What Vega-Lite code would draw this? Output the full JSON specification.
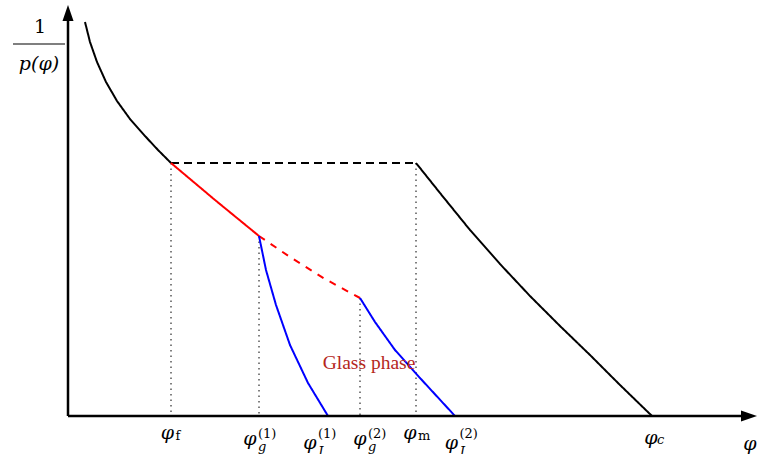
{
  "$schema": "https://vega.github.io/schema/vega-lite/v6.json",
  "width": 757,
  "height": 454,
  "autosize": "none",
  "padding": 0,
  "background": "white",
  "config": {"view": {"stroke": null}},
  "datasets": {
    "curves": [
      {"s": "A", "i": 0, "x": 17, "y": 394},
      {"s": "A", "i": 1, "x": 22, "y": 374},
      {"s": "A", "i": 2, "x": 29, "y": 354},
      {"s": "A", "i": 3, "x": 38, "y": 334},
      {"s": "A", "i": 4, "x": 49, "y": 315},
      {"s": "A", "i": 5, "x": 62, "y": 297},
      {"s": "A", "i": 6, "x": 77, "y": 280},
      {"s": "A", "i": 7, "x": 90, "y": 266},
      {"s": "A", "i": 8, "x": 103, "y": 253},
      {"s": "B", "i": 0, "x": 103, "y": 253},
      {"s": "B", "i": 1, "x": 348, "y": 253},
      {"s": "C", "i": 0, "x": 348, "y": 253},
      {"s": "C", "i": 1, "x": 372, "y": 223},
      {"s": "C", "i": 2, "x": 402, "y": 186},
      {"s": "C", "i": 3, "x": 432, "y": 152},
      {"s": "C", "i": 4, "x": 462, "y": 120},
      {"s": "C", "i": 5, "x": 492, "y": 90},
      {"s": "C", "i": 6, "x": 522, "y": 61},
      {"s": "C", "i": 7, "x": 552, "y": 31},
      {"s": "C", "i": 8, "x": 584, "y": 0},
      {"s": "D", "i": 0, "x": 103, "y": 253},
      {"s": "D", "i": 1, "x": 147, "y": 216},
      {"s": "D", "i": 2, "x": 191, "y": 180},
      {"s": "E", "i": 0, "x": 191, "y": 180},
      {"s": "E", "i": 1, "x": 222, "y": 159},
      {"s": "E", "i": 2, "x": 257, "y": 137},
      {"s": "E", "i": 3, "x": 292, "y": 118},
      {"s": "F", "i": 0, "x": 191, "y": 180},
      {"s": "F", "i": 1, "x": 198, "y": 146},
      {"s": "F", "i": 2, "x": 208, "y": 111},
      {"s": "F", "i": 3, "x": 222, "y": 71},
      {"s": "F", "i": 4, "x": 240, "y": 33},
      {"s": "F", "i": 5, "x": 260, "y": 0},
      {"s": "G", "i": 0, "x": 292, "y": 118},
      {"s": "G", "i": 1, "x": 307, "y": 94},
      {"s": "G", "i": 2, "x": 327, "y": 66},
      {"s": "G", "i": 3, "x": 352, "y": 38},
      {"s": "G", "i": 4, "x": 387, "y": 0}
    ],
    "guides": [
      {"x": 103, "y": 253},
      {"x": 191, "y": 180},
      {"x": 292, "y": 118},
      {"x": 348, "y": 253}
    ],
    "labels": [
      {"name": "f", "x": 99.5, "sub": "f", "sup": ""},
      {"name": "g1", "x": 182, "sub": "g", "sup": "(1)"},
      {"name": "J1", "x": 242, "sub": "J", "sup": "(1)"},
      {"name": "g2", "x": 292, "sub": "g", "sup": "(2)"},
      {"name": "m", "x": 342, "sub": "m", "sup": ""},
      {"name": "J2", "x": 383.5, "sub": "J", "sup": "(2)"},
      {"name": "c", "x": 583, "sub": "c", "sup": ""}
    ]
  },
  "layer": [
    {
      "data": {"name": "guides"},
      "mark": {"type": "rule", "stroke": "black", "strokeWidth": 1, "strokeDash": [1.5, 4]},
      "encoding": {
        "x": {"field": "x", "type": "quantitative", "scale": {"domain": [-68, 689], "zero": false, "nice": false}, "axis": null},
        "y": {"field": "y", "type": "quantitative", "scale": {"domain": [-38, 416], "zero": false, "nice": false}, "axis": null},
        "y2": {"datum": 0}
      }
    },
    {
      "data": {"name": "curves"},
      "mark": {"type": "line", "strokeWidth": 2},
      "encoding": {
        "x": {"field": "x", "type": "quantitative", "scale": {"domain": [-68, 689], "zero": false, "nice": false}, "axis": null},
        "y": {"field": "y", "type": "quantitative", "scale": {"domain": [-38, 416], "zero": false, "nice": false}, "axis": null},
        "order": {"field": "i", "type": "quantitative"},
        "color": {"field": "s", "type": "nominal", "legend": null,
          "scale": {"domain": ["A", "B", "C", "D", "E", "F", "G"], "range": ["#000000", "#000000", "#000000", "#ff0000", "#ff0000", "#0000ff", "#0000ff"]}},
        "strokeDash": {"field": "s", "type": "nominal", "legend": null,
          "scale": {"domain": ["A", "B", "C", "D", "E", "F", "G"], "range": [[1, 0], [8, 5], [1, 0], [1, 0], [7, 7], [1, 0], [1, 0]]}}
      }
    },
    {
      "data": {"values": [{}]},
      "mark": {"type": "rule", "stroke": "black", "strokeWidth": 2.5},
      "encoding": {
        "x": {"datum": 0, "type": "quantitative", "scale": {"domain": [-68, 689], "zero": false, "nice": false}, "axis": null},
        "x2": {"datum": 676},
        "y": {"datum": 0, "type": "quantitative", "scale": {"domain": [-38, 416], "zero": false, "nice": false}, "axis": null}
      }
    },
    {
      "data": {"values": [{}]},
      "mark": {"type": "rule", "stroke": "black", "strokeWidth": 2.5},
      "encoding": {
        "x": {"datum": 0, "type": "quantitative", "scale": {"domain": [-68, 689], "zero": false, "nice": false}, "axis": null},
        "y": {"datum": 0, "type": "quantitative", "scale": {"domain": [-38, 416], "zero": false, "nice": false}, "axis": null},
        "y2": {"datum": 400}
      }
    },
    {
      "data": {"values": [{}]},
      "mark": {"type": "point", "shape": "M0,-1L0.69,1L-0.69,1Z", "filled": true, "fill": "black", "stroke": null, "size": 256, "opacity": 1},
      "encoding": {
        "x": {"datum": 0, "type": "quantitative", "scale": {"domain": [-68, 689], "zero": false, "nice": false}, "axis": null},
        "y": {"datum": 403, "type": "quantitative", "scale": {"domain": [-38, 416], "zero": false, "nice": false}, "axis": null}
      }
    },
    {
      "data": {"values": [{}]},
      "mark": {"type": "point", "shape": "M1,0L-1,0.69L-1,-0.69Z", "filled": true, "fill": "black", "stroke": null, "size": 256, "opacity": 1},
      "encoding": {
        "x": {"datum": 681, "type": "quantitative", "scale": {"domain": [-68, 689], "zero": false, "nice": false}, "axis": null},
        "y": {"datum": 0, "type": "quantitative", "scale": {"domain": [-38, 416], "zero": false, "nice": false}, "axis": null}
      }
    },
    {
      "data": {"values": [{}]},
      "mark": {"type": "rule", "stroke": "#555555", "strokeWidth": 1.5},
      "encoding": {
        "x": {"datum": -55, "type": "quantitative", "scale": {"domain": [-68, 689], "zero": false, "nice": false}, "axis": null},
        "x2": {"datum": -3},
        "y": {"datum": 372, "type": "quantitative", "scale": {"domain": [-38, 416], "zero": false, "nice": false}, "axis": null}
      }
    },
    {
      "data": {"values": [{"t": "1", "x": -28, "y": 383}]},
      "mark": {"type": "text", "font": "DejaVu Serif", "fontSize": 19, "align": "center", "baseline": "alphabetic", "color": "black"},
      "encoding": {
        "x": {"field": "x", "type": "quantitative", "scale": {"domain": [-68, 689], "zero": false, "nice": false}, "axis": null},
        "y": {"field": "y", "type": "quantitative", "scale": {"domain": [-38, 416], "zero": false, "nice": false}, "axis": null},
        "text": {"field": "t"}
      }
    },
    {
      "data": {"values": [{"t": "p(φ)", "x": -29, "y": 346}]},
      "mark": {"type": "text", "font": "DejaVu Serif", "fontSize": 19, "fontStyle": "italic", "align": "center", "baseline": "alphabetic", "color": "black"},
      "encoding": {
        "x": {"field": "x", "type": "quantitative", "scale": {"domain": [-68, 689], "zero": false, "nice": false}, "axis": null},
        "y": {"field": "y", "type": "quantitative", "scale": {"domain": [-38, 416], "zero": false, "nice": false}, "axis": null},
        "text": {"field": "t"}
      }
    },
    {
      "data": {"values": [{"t": "Glass phase", "x": 301, "y": 47}]},
      "mark": {"type": "text", "font": "Liberation Serif", "fontSize": 19.5, "align": "center", "baseline": "alphabetic", "color": "#b5261c"},
      "encoding": {
        "x": {"field": "x", "type": "quantitative", "scale": {"domain": [-68, 689], "zero": false, "nice": false}, "axis": null},
        "y": {"field": "y", "type": "quantitative", "scale": {"domain": [-38, 416], "zero": false, "nice": false}, "axis": null},
        "text": {"field": "t"}
      }
    },
    {
      "data": {"values": [{"t": "φ", "x": 682, "y": -34}]},
      "mark": {"type": "text", "font": "DejaVu Serif", "fontSize": 19, "fontStyle": "italic", "align": "center", "baseline": "alphabetic", "color": "black"},
      "encoding": {
        "x": {"field": "x", "type": "quantitative", "scale": {"domain": [-68, 689], "zero": false, "nice": false}, "axis": null},
        "y": {"field": "y", "type": "quantitative", "scale": {"domain": [-38, 416], "zero": false, "nice": false}, "axis": null},
        "text": {"field": "t"}
      }
    },
    {
      "data": {"name": "labels"},
      "transform": [{"filter": "datum.name == 'f' || datum.name == 'm'"}],
      "mark": {"type": "text", "font": "DejaVu Serif", "fontSize": 19, "fontStyle": "italic", "align": "center", "baseline": "alphabetic", "color": "black"},
      "encoding": {
        "x": {"field": "x", "type": "quantitative", "scale": {"domain": [-68, 689], "zero": false, "nice": false}, "axis": null},
        "y": {"datum": -23, "type": "quantitative", "scale": {"domain": [-38, 416], "zero": false, "nice": false}, "axis": null},
        "text": {"value": "φ"}
      }
    },
    {
      "data": {"name": "labels"},
      "transform": [{"filter": "datum.name == 'c'"}],
      "mark": {"type": "text", "font": "DejaVu Serif", "fontSize": 19, "fontStyle": "italic", "align": "center", "baseline": "alphabetic", "color": "black"},
      "encoding": {
        "x": {"field": "x", "type": "quantitative", "scale": {"domain": [-68, 689], "zero": false, "nice": false}, "axis": null},
        "y": {"datum": -28, "type": "quantitative", "scale": {"domain": [-38, 416], "zero": false, "nice": false}, "axis": null},
        "text": {"value": "φ"}
      }
    },
    {
      "data": {"name": "labels"},
      "transform": [{"filter": "datum.name == 'g1' || datum.name == 'g2'"}],
      "mark": {"type": "text", "font": "DejaVu Serif", "fontSize": 19, "fontStyle": "italic", "align": "center", "baseline": "alphabetic", "color": "black"},
      "encoding": {
        "x": {"field": "x", "type": "quantitative", "scale": {"domain": [-68, 689], "zero": false, "nice": false}, "axis": null},
        "y": {"datum": -29, "type": "quantitative", "scale": {"domain": [-38, 416], "zero": false, "nice": false}, "axis": null},
        "text": {"value": "φ"}
      }
    },
    {
      "data": {"name": "labels"},
      "transform": [{"filter": "datum.name == 'J1' || datum.name == 'J2'"}],
      "mark": {"type": "text", "font": "DejaVu Serif", "fontSize": 19, "fontStyle": "italic", "align": "center", "baseline": "alphabetic", "color": "black"},
      "encoding": {
        "x": {"field": "x", "type": "quantitative", "scale": {"domain": [-68, 689], "zero": false, "nice": false}, "axis": null},
        "y": {"datum": -33, "type": "quantitative", "scale": {"domain": [-38, 416], "zero": false, "nice": false}, "axis": null},
        "text": {"value": "φ"}
      }
    },
    {
      "data": {"name": "labels"},
      "transform": [{"filter": "datum.name == 'f' || datum.name == 'm'"}],
      "mark": {"type": "text", "font": "DejaVu Serif", "fontSize": 13, "align": "left", "baseline": "alphabetic", "dx": 8, "color": "black"},
      "encoding": {
        "x": {"field": "x", "type": "quantitative", "scale": {"domain": [-68, 689], "zero": false, "nice": false}, "axis": null},
        "y": {"datum": -24, "type": "quantitative", "scale": {"domain": [-38, 416], "zero": false, "nice": false}, "axis": null},
        "text": {"field": "sub"}
      }
    },
    {
      "data": {"name": "labels"},
      "transform": [{"filter": "datum.name == 'c'"}],
      "mark": {"type": "text", "font": "DejaVu Serif", "fontSize": 13, "fontStyle": "italic", "align": "left", "baseline": "alphabetic", "dx": 6, "color": "black"},
      "encoding": {
        "x": {"field": "x", "type": "quantitative", "scale": {"domain": [-68, 689], "zero": false, "nice": false}, "axis": null},
        "y": {"datum": -28, "type": "quantitative", "scale": {"domain": [-38, 416], "zero": false, "nice": false}, "axis": null},
        "text": {"field": "sub"}
      }
    },
    {
      "data": {"name": "labels"},
      "transform": [{"filter": "datum.sup != ''"}],
      "mark": {"type": "text", "font": "DejaVu Serif", "fontSize": 13, "align": "left", "baseline": "alphabetic", "dx": 8, "color": "black"},
      "encoding": {
        "x": {"field": "x", "type": "quantitative", "scale": {"domain": [-68, 689], "zero": false, "nice": false}, "axis": null},
        "y": {"datum": -22, "type": "quantitative", "scale": {"domain": [-38, 416], "zero": false, "nice": false}, "axis": null},
        "text": {"field": "sup"}
      }
    },
    {
      "data": {"name": "labels"},
      "transform": [{"filter": "datum.sub == 'g'"}],
      "mark": {"type": "text", "font": "DejaVu Serif", "fontSize": 13, "fontStyle": "italic", "align": "left", "baseline": "alphabetic", "dx": 8, "color": "black"},
      "encoding": {
        "x": {"field": "x", "type": "quantitative", "scale": {"domain": [-68, 689], "zero": false, "nice": false}, "axis": null},
        "y": {"datum": -35, "type": "quantitative", "scale": {"domain": [-38, 416], "zero": false, "nice": false}, "axis": null},
        "text": {"field": "sub"}
      }
    },
    {
      "data": {"name": "labels"},
      "transform": [{"filter": "datum.sub == 'J'"}],
      "mark": {"type": "text", "font": "DejaVu Serif", "fontSize": 13, "fontStyle": "italic", "align": "left", "baseline": "alphabetic", "dx": 8, "color": "black"},
      "encoding": {
        "x": {"field": "x", "type": "quantitative", "scale": {"domain": [-68, 689], "zero": false, "nice": false}, "axis": null},
        "y": {"datum": -40, "type": "quantitative", "scale": {"domain": [-38, 416], "zero": false, "nice": false}, "axis": null},
        "text": {"field": "sub"}
      }
    }
  ]
}
